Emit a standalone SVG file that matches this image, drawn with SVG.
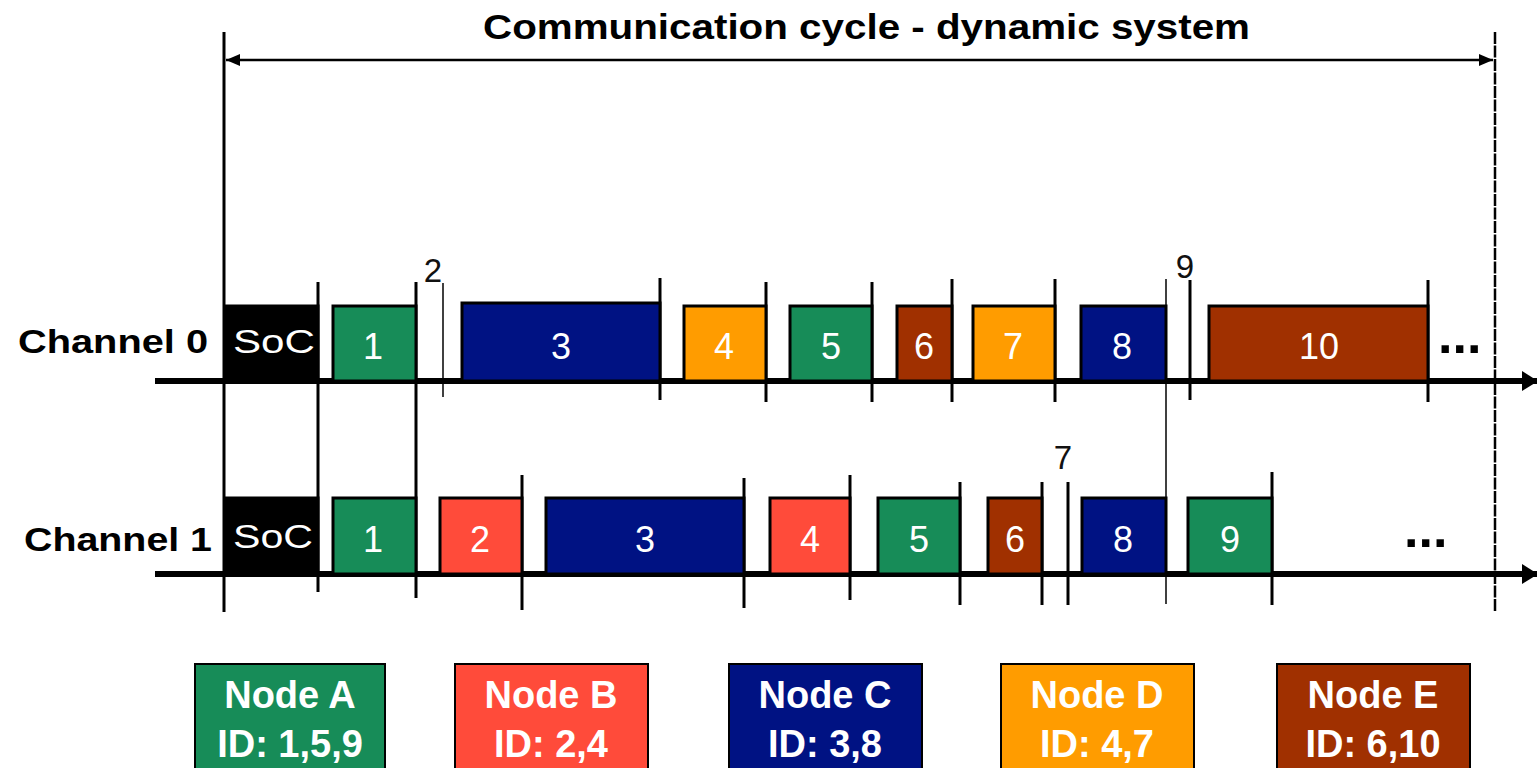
<svg xmlns="http://www.w3.org/2000/svg" width="1537" height="768" viewBox="0 0 1537 768">
<defs>
<style>
.t{font-family:"Liberation Sans",Arial,sans-serif;}
.bl{font-family:"Liberation Sans",Arial,sans-serif;font-size:36px;fill:#fff;text-anchor:middle;}
.soc{font-family:"Liberation Sans",Arial,sans-serif;font-size:33px;fill:#fff;}
.ch{font-family:"Liberation Sans",Arial,sans-serif;font-size:33px;font-weight:bold;fill:#000;}
.lg{font-family:"Liberation Sans",Arial,sans-serif;font-size:38px;font-weight:bold;fill:#fff;text-anchor:middle;}
.sm{font-family:"Liberation Sans",Arial,sans-serif;font-size:33px;fill:#111;text-anchor:middle;}
.dots{font-family:"Liberation Sans",Arial,sans-serif;font-size:52px;font-weight:bold;fill:#000;}
.blk{stroke:#000;stroke-width:3;}
.g{fill:#178C58;}.n{fill:#001283;}.o{fill:#FF9C00;}.b{fill:#A03000;}.r{fill:#FF4B3A;}.k{fill:#000;}
.tk{stroke:#000;stroke-width:3;fill:none;}
.tn{stroke:#000;stroke-width:1.5;fill:none;}
.ax{stroke:#000;stroke-width:6;fill:none;}
</style>
<marker id="ah" markerWidth="14" markerHeight="12" refX="14" refY="6" orient="auto" markerUnits="userSpaceOnUse" viewBox="0 0 14 12">
<path d="M0,0 L14,6 L0,12 Z" fill="#000"/>
</marker>
<marker id="ahl" markerWidth="14" markerHeight="12" refX="0" refY="6" orient="auto" markerUnits="userSpaceOnUse" viewBox="0 0 14 12">
<path d="M14,0 L0,6 L14,12 Z" fill="#000"/>
</marker>
<marker id="ax" markerWidth="16" markerHeight="20" refX="15" refY="10" orient="auto" markerUnits="userSpaceOnUse" viewBox="0 0 16 20">
<path d="M0,0 L16,10 L0,20 Z" fill="#000"/>
</marker>
</defs>
<rect width="1537" height="768" fill="#fff"/>

<text class="t" x="483" y="39" font-size="35" font-weight="bold" textLength="767" lengthAdjust="spacingAndGlyphs">Communication cycle - dynamic system</text>

<g id="connectors">
<line x1="226" y1="60" x2="1493" y2="60" stroke="#000" stroke-width="2.5" marker-start="url(#ahl)" marker-end="url(#ah)"/>
<line x1="224" y1="32" x2="224" y2="612" class="tk"/>
<line x1="1495" y1="32" x2="1495" y2="612" stroke="#000" stroke-width="2.5" stroke-dasharray="12 1.5"/>
<line x1="155" y1="381" x2="1537" y2="381" class="ax" marker-end="url(#ax)"/>
<line x1="155" y1="574" x2="1537" y2="574" class="ax" marker-end="url(#ax)"/>
<!-- ticks channel 0 -->
<line x1="318" y1="282" x2="318" y2="592" class="tk"/>
<line x1="416" y1="282" x2="416" y2="598" class="tk"/>
<line x1="443" y1="283" x2="443" y2="397" class="tn"/>
<line x1="660" y1="278" x2="660" y2="400" class="tk"/>
<line x1="766" y1="282" x2="766" y2="402" class="tk"/>
<line x1="872" y1="282" x2="872" y2="402" class="tk"/>
<line x1="952" y1="279" x2="952" y2="402" class="tk"/>
<line x1="1055" y1="279" x2="1055" y2="402" class="tk"/>
<line x1="1166" y1="279" x2="1166" y2="604" class="tn"/>
<line x1="1190" y1="280" x2="1190" y2="400" class="tk"/>
<line x1="1428" y1="280" x2="1428" y2="402" class="tk"/>
<!-- ticks channel 1 -->
<line x1="522" y1="475" x2="522" y2="610" class="tk"/>
<line x1="744" y1="478" x2="744" y2="608" class="tk"/>
<line x1="850" y1="475" x2="850" y2="600" class="tk"/>
<line x1="960" y1="482" x2="960" y2="605" class="tk"/>
<line x1="1042" y1="482" x2="1042" y2="605" class="tk"/>
<line x1="1068" y1="482" x2="1068" y2="605" class="tk"/>
<line x1="1272" y1="472" x2="1272" y2="605" class="tk"/>
</g>

<text class="ch" x="18" y="353" textLength="190" lengthAdjust="spacingAndGlyphs">Channel 0</text>
<text class="ch" x="24" y="551" textLength="188" lengthAdjust="spacingAndGlyphs">Channel 1</text>

<g id="ch0">
<g id="c0-soc"><rect class="blk k" x="225" y="306" width="93" height="75"/><text class="soc" x="233" y="353" textLength="82" lengthAdjust="spacingAndGlyphs">SoC</text></g>
<g id="c0-1"><rect class="blk g" x="333" y="306" width="83" height="75"/><text class="bl" x="373" y="359">1</text></g>
<text class="sm" x="433" y="282">2</text>
<g id="c0-3"><rect class="blk n" x="462" y="303" width="198" height="78"/><text class="bl" x="561" y="359">3</text></g>
<g id="c0-4"><rect class="blk o" x="684" y="306" width="82" height="75"/><text class="bl" x="724" y="359">4</text></g>
<g id="c0-5"><rect class="blk g" x="790" y="306" width="82" height="75"/><text class="bl" x="831" y="359">5</text></g>
<g id="c0-6"><rect class="blk b" x="897" y="306" width="55" height="75"/><text class="bl" x="924" y="359">6</text></g>
<g id="c0-7"><rect class="blk o" x="973" y="306" width="82" height="75"/><text class="bl" x="1013" y="359">7</text></g>
<g id="c0-8"><rect class="blk n" x="1081" y="306" width="85" height="75"/><text class="bl" x="1122" y="359">8</text></g>
<text class="sm" x="1185" y="278">9</text>
<g id="c0-10"><rect class="blk b" x="1209" y="306" width="219" height="75"/><text class="bl" x="1319" y="359">10</text></g>
<text class="dots" x="1438" y="353">...</text>
</g>

<g id="ch1">
<g id="c1-soc"><rect class="blk k" x="225" y="498" width="93" height="76"/><text class="soc" x="233" y="548" textLength="80" lengthAdjust="spacingAndGlyphs">SoC</text></g>
<g id="c1-1"><rect class="blk g" x="333" y="498" width="83" height="76"/><text class="bl" x="373" y="552">1</text></g>
<g id="c1-2"><rect class="blk r" x="440" y="498" width="82" height="76"/><text class="bl" x="480" y="552">2</text></g>
<g id="c1-3"><rect class="blk n" x="546" y="498" width="198" height="76"/><text class="bl" x="645" y="552">3</text></g>
<g id="c1-4"><rect class="blk r" x="770" y="498" width="80" height="76"/><text class="bl" x="810" y="552">4</text></g>
<g id="c1-5"><rect class="blk g" x="878" y="498" width="82" height="76"/><text class="bl" x="919" y="552">5</text></g>
<g id="c1-6"><rect class="blk b" x="988" y="498" width="54" height="76"/><text class="bl" x="1015" y="552">6</text></g>
<text class="sm" x="1063" y="469">7</text>
<g id="c1-8"><rect class="blk n" x="1082" y="498" width="84" height="76"/><text class="bl" x="1123" y="552">8</text></g>
<g id="c1-9"><rect class="blk g" x="1188" y="498" width="84" height="76"/><text class="bl" x="1230" y="552">9</text></g>
<text class="dots" x="1404" y="547">...</text>
</g>

<g id="legend-a"><rect class="g" x="195" y="664" width="190" height="106" stroke="#000" stroke-width="2"/><text class="lg" x="290" y="708">Node A</text><text class="lg" x="290" y="757">ID: 1,5,9</text></g>
<g id="legend-b"><rect class="r" x="455" y="664" width="193" height="106" stroke="#000" stroke-width="2"/><text class="lg" x="551" y="708">Node B</text><text class="lg" x="551" y="757">ID: 2,4</text></g>
<g id="legend-c"><rect class="n" x="729" y="664" width="193" height="106" stroke="#000" stroke-width="2"/><text class="lg" x="825" y="708">Node C</text><text class="lg" x="825" y="757">ID: 3,8</text></g>
<g id="legend-d"><rect class="o" x="1001" y="664" width="193" height="106" stroke="#000" stroke-width="2"/><text class="lg" x="1097" y="708">Node D</text><text class="lg" x="1097" y="757">ID: 4,7</text></g>
<g id="legend-e"><rect class="b" x="1277" y="664" width="193" height="106" stroke="#000" stroke-width="2"/><text class="lg" x="1373" y="708">Node E</text><text class="lg" x="1373" y="757">ID: 6,10</text></g>
</svg>
